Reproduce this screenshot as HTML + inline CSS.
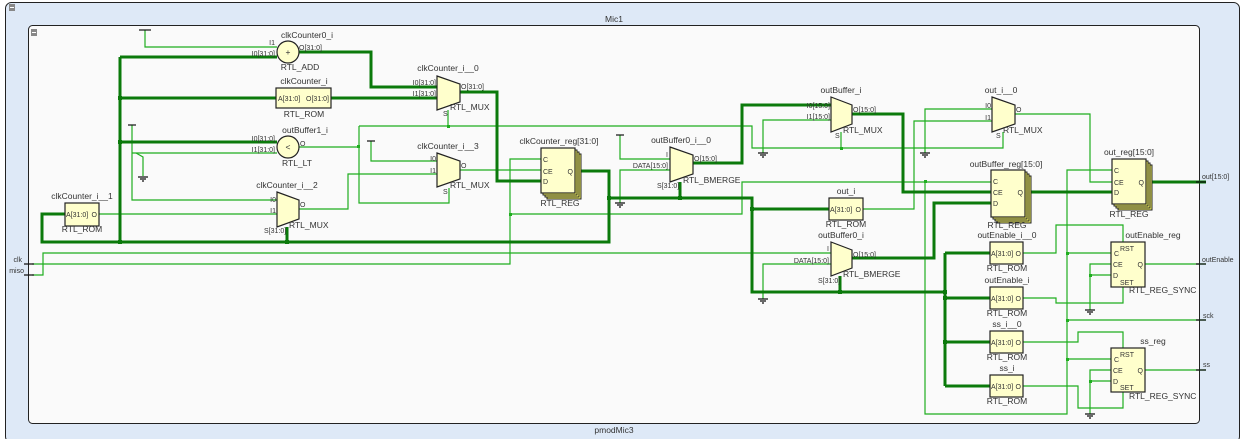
<!DOCTYPE html>
<html><head><meta charset="utf-8"><style>
html,body{margin:0;padding:0;background:#fff;}
svg{display:block;}
text{font-family:"Liberation Sans",sans-serif;fill:#333;}
.t{stroke:#1fae1f;stroke-width:1.2;fill:none;}
.k{stroke:#0b7a0b;stroke-width:3;fill:none;}
.b{fill:#ffffcc;stroke:#222;stroke-width:1.2;}
.s{fill:#ffff66;stroke:#222;stroke-width:1;}
.l{font-size:8.5px;}
.p{font-size:7px;}
.blk{stroke:#111;stroke-width:1.2;fill:none;}
</style></head><body>
<svg width="1243" height="439" viewBox="0 0 1243 439" xmlns="http://www.w3.org/2000/svg">
<rect x="0" y="0" width="1243" height="439" fill="#fff"/>
<rect x="5.5" y="2.5" width="1234" height="440" rx="6" fill="#dee9f7" stroke="#222"/>
<rect x="9" y="4" width="6" height="7" fill="#888"/><rect x="10" y="7" width="4" height="1" fill="#fff"/>
<text x="614" y="22" class="l" text-anchor="middle">Mic1</text>
<rect x="28.5" y="25.5" width="1171" height="398" rx="4" fill="#fafafa" stroke="#222"/>
<rect x="31" y="29" width="6" height="7" fill="#888"/><rect x="32" y="32" width="4" height="1" fill="#fff"/>
<text x="614" y="433" class="l" text-anchor="middle">pmodMic3</text>

<!-- thin wires -->
<g class="t">
<path d="M145,30 V47 H277"/>
<path d="M132,153 H277"/>
<path d="M132,125 V200 H277"/>
<path d="M136,153 L143,157 V176"/>
<path d="M299,147 H359"/>
<path d="M359,126 V203 H449 V188"/>
<path d="M359,126 H752 V148 H1003 V132"/>
<path d="M448,110 V126"/>
<path d="M841,132 V148"/>
<path d="M763,153 V120 H831"/>
<path d="M371,141 V161 H437"/>
<path d="M299,209 H348 V174 H437"/>
<path d="M460,170 H541"/>
<path d="M99,214 H277"/>
<path d="M32,264 H510 V159 H541"/>
<path d="M510,214 H742 V182 H991"/>
<path d="M32,275 H43 V253 H831"/>
<path d="M763,299 V264 H831"/>
<path d="M620,135 V159 H670"/>
<path d="M620,203 V170 H670"/>
<path d="M925,153 V109 H992"/>
<path d="M863,209 H914 V121 H992"/>
<path d="M1015,114 H1090 V182 H1112"/>
<path d="M925,181 V414 H1067 V170 H1112"/>
<path d="M1023,253 H1056 V225 H1123 V242"/>
<path d="M1023,298 H1056 V303 H1123 V287"/>
<path d="M1067,253 H1111"/>
<path d="M1090,310 V264 H1111"/><path d="M1090,275 H1111"/>
<path d="M1067,320 H1206"/>
<path d="M1145,264 H1206"/>
<path d="M1023,342 H1078 V332 H1123 V348"/>
<path d="M1023,386 H1078 V408 H1123 V392"/>
<path d="M1067,359 H1111"/>
<path d="M1090,414 V370 H1111"/><path d="M1090,381 H1111"/>
<path d="M1145,370 H1206"/>
</g>
<!-- thick buses -->
<g class="k">
<path d="M120,57 H277"/>
<path d="M120,57 V242"/>
<path d="M299,52 H371 V87 H437"/>
<path d="M120,98 H276"/><path d="M331,98 H437"/>
<path d="M460,92 H497 V181 H541"/>
<path d="M120,142 H277"/>
<path d="M65,214 H42 V242 H609 V171 H575"/>
<path d="M287,227 V242"/>
<path d="M609,198 H752 V292 H945"/>
<path d="M680,182 V198"/>
<path d="M752,209 H829"/>
<path d="M693,163 H742 V105 H831"/>
<path d="M852,114 H903 V192 H991"/>
<path d="M852,258 H934 V203 H991"/>
<path d="M1025,192 H1112"/>
<path d="M1146,182 H1206"/>
<path d="M840,276 V292"/>
<path d="M945,253 V386"/>
<path d="M945,253 H990"/><path d="M945,298 H990"/><path d="M945,342 H990"/><path d="M945,386 H990"/>
</g>
<!-- dots -->
<g fill="#0b7a0b">
<rect x="118" y="96" width="4" height="4"/><rect x="118" y="140" width="4" height="4"/><rect x="118" y="240" width="4" height="4"/>
<rect x="285" y="240" width="4" height="4"/><rect x="607" y="196" width="4" height="4"/><rect x="678" y="196" width="4" height="4"/>
<rect x="750" y="207" width="4" height="4"/><rect x="838" y="290" width="4" height="4"/>
<rect x="943" y="290" width="4" height="4"/><rect x="943" y="296" width="4" height="4"/><rect x="943" y="340" width="4" height="4"/>
</g>
<g fill="#1fae1f">
<rect x="357" y="145" width="3" height="3"/><rect x="447" y="125" width="3" height="3"/><rect x="509" y="213" width="3" height="3"/>
<rect x="840" y="147" width="3" height="3"/><rect x="924" y="180" width="3" height="3"/>
<rect x="1066" y="252" width="3" height="3"/><rect x="1066" y="319" width="3" height="3"/><rect x="1066" y="358" width="3" height="3"/>
<rect x="1089" y="274" width="3" height="3"/><rect x="1089" y="380" width="3" height="3"/>
</g>
<!-- power ticks -->
<g class="blk">
<path d="M139,30 H151"/><path d="M128,125 H136"/><path d="M367,141 H375"/><path d="M616,135 H624"/>
</g>
<!-- grounds -->
<g class="blk" stroke-width="1">
<path d="M138,177 H148 M140,179 H146 M142,181 H144"/>
<path d="M615,203 H625 M617,205 H623 M619,207 H621"/>
<path d="M758,153 H768 M760,155 H766 M762,157 H764"/>
<path d="M920,153 H930 M922,155 H928 M924,157 H926"/>
<path d="M758,299 H768 M760,301 H766 M762,303 H764"/>
<path d="M1085,310 H1095 M1087,312 H1093 M1089,314 H1091"/>
<path d="M1085,414 H1095 M1087,416 H1093 M1089,418 H1091"/>
</g>
<!-- port ticks -->
<g class="blk">
<path d="M24,264 H34 M24,275 H34"/>
<path d="M1196,182 H1206 M1196,264 H1206 M1196,320 H1206 M1196,370 H1206"/>
</g>
<text x="22" y="262" class="p" text-anchor="end">clk</text>
<text x="24" y="273" class="p" text-anchor="end">miso</text>
<text x="1202" y="179" class="p">out[15:0]</text>
<text x="1202" y="262" class="p">outEnable</text>
<text x="1203" y="318" class="p">sck</text>
<text x="1203" y="367" class="p">ss</text>

<!-- adder -->
<circle cx="288" cy="52" r="11" class="b"/>
<text x="288" y="55" class="l" text-anchor="middle">+</text>
<text x="307" y="38" class="l" text-anchor="middle">clkCounter0_i</text>
<text x="300" y="70" class="l" text-anchor="middle">RTL_ADD</text>
<text x="275" y="45" class="p" text-anchor="end">I1</text>
<text x="275" y="56" class="p" text-anchor="end">I0[31:0]</text>
<text x="299" y="50" class="p">O[31:0]</text>
<!-- comparator -->
<circle cx="288" cy="147" r="11" class="b"/>
<text x="288" y="150" class="l" text-anchor="middle">&lt;</text>
<text x="305" y="133" class="l" text-anchor="middle">outBuffer1_i</text>
<text x="297" y="166" class="l" text-anchor="middle">RTL_LT</text>
<text x="275" y="141" class="p" text-anchor="end">I0[31:0]</text>
<text x="275" y="152" class="p" text-anchor="end">I1[31:0]</text>
<text x="300" y="146" class="p">O</text>

<!-- ROMs -->
<rect x="276" y="88" width="55" height="20" class="b"/>
<text x="278" y="101" class="p">A[31:0]</text><text x="329" y="101" class="p" text-anchor="end">O[31:0]</text>
<text x="304" y="84" class="l" text-anchor="middle">clkCounter_i</text>
<text x="304" y="117" class="l" text-anchor="middle">RTL_ROM</text>

<rect x="65" y="203" width="34" height="23" class="b"/>
<text x="66" y="217" class="p">A[31:0]</text><text x="97" y="217" class="p" text-anchor="end">O</text>
<text x="82" y="199" class="l" text-anchor="middle">clkCounter_i__1</text>
<text x="82" y="232" class="l" text-anchor="middle">RTL_ROM</text>

<rect x="829" y="198" width="34" height="22" class="b"/>
<text x="830" y="212" class="p">A[31:0]</text><text x="861" y="212" class="p" text-anchor="end">O</text>
<text x="846" y="194" class="l" text-anchor="middle">out_i</text>
<text x="846" y="227" class="l" text-anchor="middle">RTL_ROM</text>

<rect x="990" y="242" width="33" height="22" class="b"/>
<text x="991" y="256" class="p">A[31:0]</text><text x="1021" y="256" class="p" text-anchor="end">O</text>
<text x="1007" y="238" class="l" text-anchor="middle">outEnable_i__0</text>
<text x="1007" y="271" class="l" text-anchor="middle">RTL_ROM</text>
<rect x="990" y="287" width="33" height="22" class="b"/>
<text x="991" y="301" class="p">A[31:0]</text><text x="1021" y="301" class="p" text-anchor="end">O</text>
<text x="1007" y="283" class="l" text-anchor="middle">outEnable_i</text>
<text x="1007" y="316" class="l" text-anchor="middle">RTL_ROM</text>
<rect x="990" y="331" width="33" height="22" class="b"/>
<text x="991" y="345" class="p">A[31:0]</text><text x="1021" y="345" class="p" text-anchor="end">O</text>
<text x="1007" y="327" class="l" text-anchor="middle">ss_i__0</text>
<text x="1007" y="360" class="l" text-anchor="middle">RTL_ROM</text>
<rect x="990" y="375" width="33" height="22" class="b"/>
<text x="991" y="389" class="p">A[31:0]</text><text x="1021" y="389" class="p" text-anchor="end">O</text>
<text x="1007" y="371" class="l" text-anchor="middle">ss_i</text>
<text x="1007" y="404" class="l" text-anchor="middle">RTL_ROM</text>

<!-- muxes -->
<polygon points="437,76 460,84 460,102 437,110" class="b"/>
<text x="448" y="71" class="l" text-anchor="middle">clkCounter_i__0</text>
<text x="436" y="85" class="p" text-anchor="end">I0[31:0]</text>
<text x="436" y="96" class="p" text-anchor="end">I1[31:0]</text>
<text x="461" y="89" class="p">O[31:0]</text>
<text x="450" y="110" class="l">RTL_MUX</text>
<text x="443" y="116" class="p">S</text>

<polygon points="437,153 460,161 460,179 437,187" class="b"/>
<text x="448" y="149" class="l" text-anchor="middle">clkCounter_i__3</text>
<text x="436" y="161" class="p" text-anchor="end">I0</text>
<text x="436" y="173" class="p" text-anchor="end">I1</text>
<text x="461" y="168" class="p">O</text>
<text x="450" y="188" class="l">RTL_MUX</text>
<text x="443" y="194" class="p">S</text>

<polygon points="277,192 299,200 299,219 277,227" class="b"/>
<text x="287" y="188" class="l" text-anchor="middle">clkCounter_i__2</text>
<text x="276" y="202" class="p" text-anchor="end">I0</text>
<text x="276" y="213" class="p" text-anchor="end">I1</text>
<text x="300" y="207" class="p">O</text>
<text x="289" y="228" class="l">RTL_MUX</text>
<text x="264" y="233" class="p">S[31:0]</text>

<polygon points="670,147 693,155 693,174 670,182" class="b"/>
<text x="681" y="143" class="l" text-anchor="middle">outBuffer0_i__0</text>
<text x="668" y="157" class="p" text-anchor="end">I</text>
<text x="668" y="168" class="p" text-anchor="end">DATA[15:0]</text>
<text x="694" y="161" class="p">O[15:0]</text>
<text x="683" y="183" class="l">RTL_BMERGE</text>
<text x="657" y="188" class="p">S[31:0]</text>

<polygon points="831,97 852,105 852,124 831,132" class="b"/>
<text x="841" y="93" class="l" text-anchor="middle">outBuffer_i</text>
<text x="830" y="108" class="p" text-anchor="end">I0[15:0]</text>
<text x="830" y="119" class="p" text-anchor="end">I1[15:0]</text>
<text x="853" y="112" class="p">O[15:0]</text>
<text x="843" y="133" class="l">RTL_MUX</text>
<text x="835" y="138" class="p">S</text>

<polygon points="992,97 1015,105 1015,124 992,132" class="b"/>
<text x="1001" y="93" class="l" text-anchor="middle">out_i__0</text>
<text x="991" y="108" class="p" text-anchor="end">I0</text>
<text x="991" y="120" class="p" text-anchor="end">I1</text>
<text x="1016" y="112" class="p">O</text>
<text x="1003" y="133" class="l">RTL_MUX</text>
<text x="996" y="138" class="p">S</text>

<polygon points="831,242 852,250 852,268 831,276" class="b"/>
<text x="841" y="238" class="l" text-anchor="middle">outBuffer0_i</text>
<text x="829" y="251" class="p" text-anchor="end">I</text>
<text x="829" y="263" class="p" text-anchor="end">DATA[15:0]</text>
<text x="853" y="257" class="p">O[15:0]</text>
<text x="843" y="277" class="l">RTL_BMERGE</text>
<text x="818" y="283" class="p">S[31:0]</text>

<!-- registers -->
<rect x="547" y="154" width="34" height="45" class="s"/>
<rect x="545" y="152" width="34" height="45" class="s"/>
<rect x="543" y="150" width="34" height="45" class="s"/>
<rect x="541" y="148" width="34" height="45" class="b"/>
<text x="543" y="162" class="p">C</text><text x="543" y="174" class="p">CE</text><text x="543" y="184" class="p">D</text>
<text x="573" y="174" class="p" text-anchor="end">Q</text>
<text x="559" y="144" class="l" text-anchor="middle">clkCounter_reg[31:0]</text>
<text x="560" y="206" class="l" text-anchor="middle">RTL_REG</text>

<rect x="997" y="176" width="34" height="47" class="s"/>
<rect x="995" y="174" width="34" height="47" class="s"/>
<rect x="993" y="172" width="34" height="47" class="s"/>
<rect x="991" y="170" width="34" height="47" class="b"/>
<text x="993" y="184" class="p">C</text><text x="993" y="195" class="p">CE</text><text x="993" y="206" class="p">D</text>
<text x="1023" y="195" class="p" text-anchor="end">Q</text>
<text x="1006" y="167" class="l" text-anchor="middle">outBuffer_reg[15:0]</text>
<text x="1007" y="228" class="l" text-anchor="middle">RTL_REG</text>

<rect x="1118" y="165" width="34" height="45" class="s"/>
<rect x="1116" y="163" width="34" height="45" class="s"/>
<rect x="1114" y="161" width="34" height="45" class="s"/>
<rect x="1112" y="159" width="34" height="45" class="b"/>
<text x="1114" y="173" class="p">C</text><text x="1114" y="185" class="p">CE</text><text x="1114" y="195" class="p">D</text>
<text x="1144" y="185" class="p" text-anchor="end">Q</text>
<text x="1129" y="155" class="l" text-anchor="middle">out_reg[15:0]</text>
<text x="1129" y="217" class="l" text-anchor="middle">RTL_REG</text>

<rect x="1111" y="242" width="34" height="45" class="b"/>
<text x="1120" y="251" class="p">RST</text><text x="1114" y="256" class="p">C</text><text x="1113" y="267" class="p">CE</text><text x="1113" y="278" class="p">D</text><text x="1120" y="285" class="p">SET</text>
<text x="1143" y="267" class="p" text-anchor="end">Q</text>
<text x="1153" y="238" class="l" text-anchor="middle">outEnable_reg</text>
<text x="1129" y="293" class="l">RTL_REG_SYNC</text>

<rect x="1111" y="348" width="34" height="44" class="b"/>
<text x="1120" y="357" class="p">RST</text><text x="1114" y="362" class="p">C</text><text x="1113" y="373" class="p">CE</text><text x="1113" y="384" class="p">D</text><text x="1120" y="390" class="p">SET</text>
<text x="1143" y="373" class="p" text-anchor="end">Q</text>
<text x="1153" y="344" class="l" text-anchor="middle">ss_reg</text>
<text x="1129" y="399" class="l">RTL_REG_SYNC</text>
</svg>
</body></html>
